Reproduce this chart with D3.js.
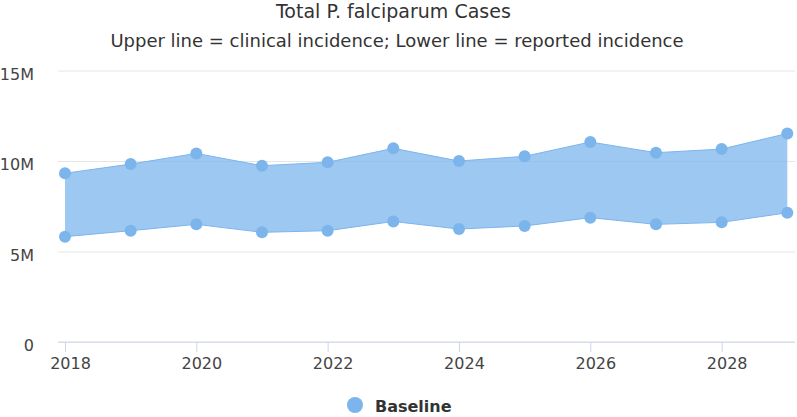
<!DOCTYPE html>
<html>
<head>
<meta charset="utf-8">
<script src="https://cdn.jsdelivr.net/npm/d3@7"></script>
<style>
  html, body { margin: 0; padding: 0; background: #fff; }
  svg { display: block; font-family: "DejaVu Sans", "Open Sans", sans-serif; }
</style>
</head>
<body>
<svg id="chart" width="797" height="417"></svg>
<script>
// ---- data ----
const years = [2018, 2019, 2020, 2021, 2022, 2023, 2024, 2025, 2026, 2027, 2028, 2029];
const clinicalIncidence = [9.32e6, 9.83e6, 10.42e6, 9.74e6, 9.93e6, 10.70e6, 10.00e6, 10.26e6, 11.05e6, 10.46e6, 10.66e6, 11.52e6];
const reportedIncidence = [5.82e6, 6.15e6, 6.50e6, 6.06e6, 6.15e6, 6.66e6, 6.24e6, 6.41e6, 6.87e6, 6.50e6, 6.61e6, 7.14e6];
const xTickValues = [2018, 2020, 2022, 2024, 2026, 2028];
const yTickValues = [0, 5e6, 10e6, 15e6];
const seriesName = "Baseline";
const titleText = "Total P. falciparum Cases";
const subtitleText = "Upper line = clinical incidence; Lower line = reported incidence";

// ---- layout ----
const plotLeft = 58, plotRight = 795, plotTop = 70.5, plotBottom = 342;
const color = "#7cb5ec";

const svg = d3.select("#chart");

const x = d3.scaleLinear().domain([2018, 2029]).range([65, 787.3]);
const y = d3.scaleLinear().domain([0, 15e6]).range([plotBottom, plotTop]);

// title & subtitle
svg.append("text").attr("x", 393.4).attr("y", 17.5).attr("text-anchor", "middle")
  .attr("font-size", 19).attr("fill", "#333").text(titleText);
svg.append("text").attr("x", 397).attr("y", 47).attr("text-anchor", "middle")
  .attr("font-size", 18).attr("fill", "#333").text(subtitleText);

// y grid + labels
const yAxis = d3.axisLeft(y).tickValues(yTickValues)
  .tickSize(-(plotRight - plotLeft)).tickPadding(24)
  .tickFormat(d => d === 0 ? "0" : (d / 1e6) + "M");
const gy = svg.append("g").attr("transform", `translate(${plotLeft},0)`).call(yAxis);
gy.select(".domain").remove();
gy.selectAll(".tick line").attr("stroke", "#e6e6e6").attr("stroke-width", 1);
gy.selectAll(".tick text").attr("font-size", 16).attr("fill", "#444")
  .attr("font-family", "DejaVu Sans, sans-serif").attr("dy", "0.55em");

// x axis
const xAxis = d3.axisBottom(x).tickValues(xTickValues).tickFormat(d3.format("d"))
  .tickSize(10).tickPadding(6);
const gx = svg.append("g").attr("transform", `translate(0,${plotBottom})`).call(xAxis);
gx.select(".domain").remove();
gx.insert("line", ":first-child").attr("x1", plotLeft).attr("x2", plotRight)
  .attr("y1", 0).attr("y2", 0).attr("stroke", "#ccd6eb").attr("stroke-width", 1);
gx.selectAll(".tick line").attr("stroke", "#ccd6eb").attr("stroke-width", 1);
gx.selectAll(".tick text").attr("font-size", 16).attr("fill", "#444")
  .attr("font-family", "DejaVu Sans, sans-serif").attr("dx", 5);

// area range
const data = years.map((yr, i) => ({ year: yr, high: clinicalIncidence[i], low: reportedIncidence[i] }));
const area = d3.area().x(d => x(d.year)).y0(d => y(d.low)).y1(d => y(d.high));
svg.append("path").datum(data).attr("d", area)
  .attr("fill", color).attr("fill-opacity", 0.75);
const lineHigh = d3.line().x(d => x(d.year)).y(d => y(d.high));
const lineLow = d3.line().x(d => x(d.year)).y(d => y(d.low));
svg.append("path").datum(data).attr("d", lineHigh).attr("fill", "none").attr("stroke", color).attr("stroke-width", 1);
svg.append("path").datum(data).attr("d", lineLow).attr("fill", "none").attr("stroke", color).attr("stroke-width", 1);

// markers
const markers = svg.append("g");
markers.selectAll("circle.high").data(data).join("circle").attr("class", "high")
  .attr("cx", d => x(d.year)).attr("cy", d => y(d.high)).attr("r", 6).attr("fill", color);
markers.selectAll("circle.low").data(data).join("circle").attr("class", "low")
  .attr("cx", d => x(d.year)).attr("cy", d => y(d.low)).attr("r", 6).attr("fill", color);

// legend
const lg = svg.append("g");
lg.append("circle").attr("cx", 355).attr("cy", 405).attr("r", 8).attr("fill", color);
lg.append("text").attr("x", 375).attr("y", 411.5).attr("font-size", 16).attr("font-weight", "bold")
  .attr("fill", "#333").text(seriesName);
</script>
</body>
</html>
